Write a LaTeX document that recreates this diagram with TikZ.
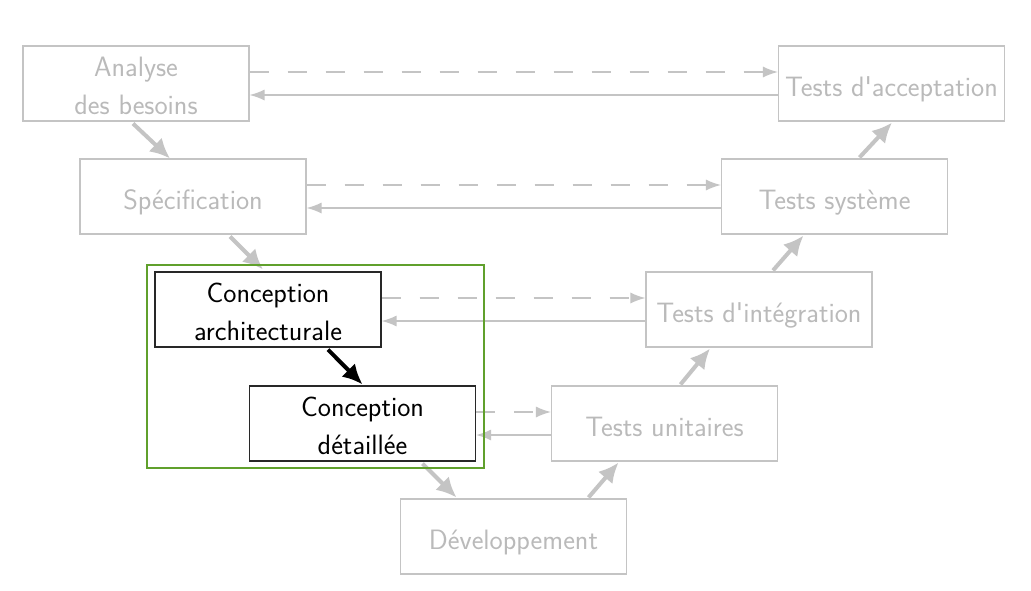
\documentclass[tikz,border=0pt]{standalone}
\usetikzlibrary{arrows.meta}
\definecolor{lightline}{RGB}{196,196,196}
\definecolor{lighttext}{RGB}{186,186,186}
\definecolor{framegreen}{RGB}{96,160,44}
\definecolor{darkborder}{RGB}{40,40,40}
\newcommand{\firstline}{\rule{0pt}{25pt}}
\begin{document}
\begin{tikzpicture}[x=1pt,y=-1pt,
  every node/.style={font=\sffamily\fontsize{28}{38}\selectfont},
  boxbase/.style={minimum width=226pt,minimum height=75pt,inner sep=0pt,align=center},
  inactive/.style={boxbase,draw=lightline,line width=1.1pt,text=lighttext},
  active/.style={boxbase,draw=darkborder,line width=1.2pt,fill=white,text=black},
  oneline/.style={text height=26pt,text depth=0pt},
  flow/.style={draw=lightline,line width=4pt,-{Latex[length=20pt,width=19pt]}},
  activeflow/.style={draw=black,line width=4pt,-{Latex[length=20pt,width=19pt]}},
  fwd/.style={draw=lightline,line width=1.4pt,dash pattern=on 19pt off 19pt,-{Latex[length=15pt,width=11pt]}},
  back/.style={draw=lightline,line width=1.4pt,-{Latex[length=15pt,width=11pt]}}]
\useasboundingbox (0,0) rectangle (1031,590);
\fill[white] (0,0) rectangle (1031,590);

\node[inactive] (ana) at (136,83.5) {\firstline Analyse\\des besoins};
\node[inactive,oneline] (spe) at (193,196.5) {Spécification};
\node[active] (ca) at (268,309.5) {\firstline Conception\\architecturale};
\node[active] (cd) at (362.5,423.5) {\firstline Conception\\détaillée};
\node[inactive,oneline] (dev) at (513.5,536.5) {Développement};
\node[inactive,oneline] (tu) at (664.5,423.5) {Tests unitaires};
\node[inactive,oneline] (ti) at (759,309.5) {Tests d\textquotesingle intégration};
\node[inactive,oneline] (ts) at (834.5,196.5) {Tests système};
\node[inactive,oneline] (ta) at (891.5,83.5) {Tests d\textquotesingle acceptation};

% V flow
\draw[flow] ([xshift=-3pt,yshift=-2pt]ana.south) -- ([xshift=-23pt]spe.north);
\draw[flow] ([xshift=37pt,yshift=-2pt]spe.south) -- ([xshift=-5pt,yshift=2pt]ca.north);
\draw[activeflow] ([xshift=60pt,yshift=-2pt]ca.south) -- ([yshift=1pt]cd.north);
\draw[flow] ([xshift=60pt,yshift=-2pt]cd.south) -- ([xshift=-57pt,yshift=1pt]dev.north);
\draw[flow] ([xshift=75pt,yshift=1pt]dev.north) -- ([xshift=-46pt,yshift=-1pt]tu.south);
\draw[flow] ([xshift=16pt,yshift=1pt]tu.north) -- ([xshift=-49pt,yshift=-1pt]ti.south);
\draw[flow] ([xshift=14pt,yshift=1pt]ti.north) -- ([xshift=-31pt,yshift=-1pt]ts.south);
\draw[flow] ([xshift=25pt,yshift=1pt]ts.north) -- ([xshift=0.5pt,yshift=-1pt]ta.south);

% horizontal links
\draw[fwd] ([yshift=11.5pt]ana.east) -- ([yshift=11.5pt]ta.west);
\draw[back] ([yshift=-11.5pt]ta.west) -- ([yshift=-11.5pt]ana.east);
\draw[fwd] ([yshift=11.5pt]spe.east) -- ([yshift=11.5pt]ts.west);
\draw[back] ([yshift=-11.5pt]ts.west) -- ([yshift=-11.5pt]spe.east);
\draw[fwd] ([yshift=11.5pt]ca.east) -- ([yshift=11.5pt]ti.west);
\draw[back] ([yshift=-11.5pt]ti.west) -- ([yshift=-11.5pt]ca.east);
\draw[fwd] ([yshift=11.5pt]cd.east) -- ([yshift=11.5pt]tu.west);
\draw[back] ([yshift=-11.5pt]tu.west) -- ([yshift=-11.5pt]cd.east);

% redraw active boxes over their arrows
\node[active] at (ca) {\firstline Conception\\architecturale};
\node[active] at (cd) {\firstline Conception\\détaillée};

% green frame
\node[draw=framegreen,line width=1.8pt,inner sep=0pt,minimum width=337pt,minimum height=203pt] (frame) at (315.5,366.5) {};
\end{tikzpicture}
\end{document}
